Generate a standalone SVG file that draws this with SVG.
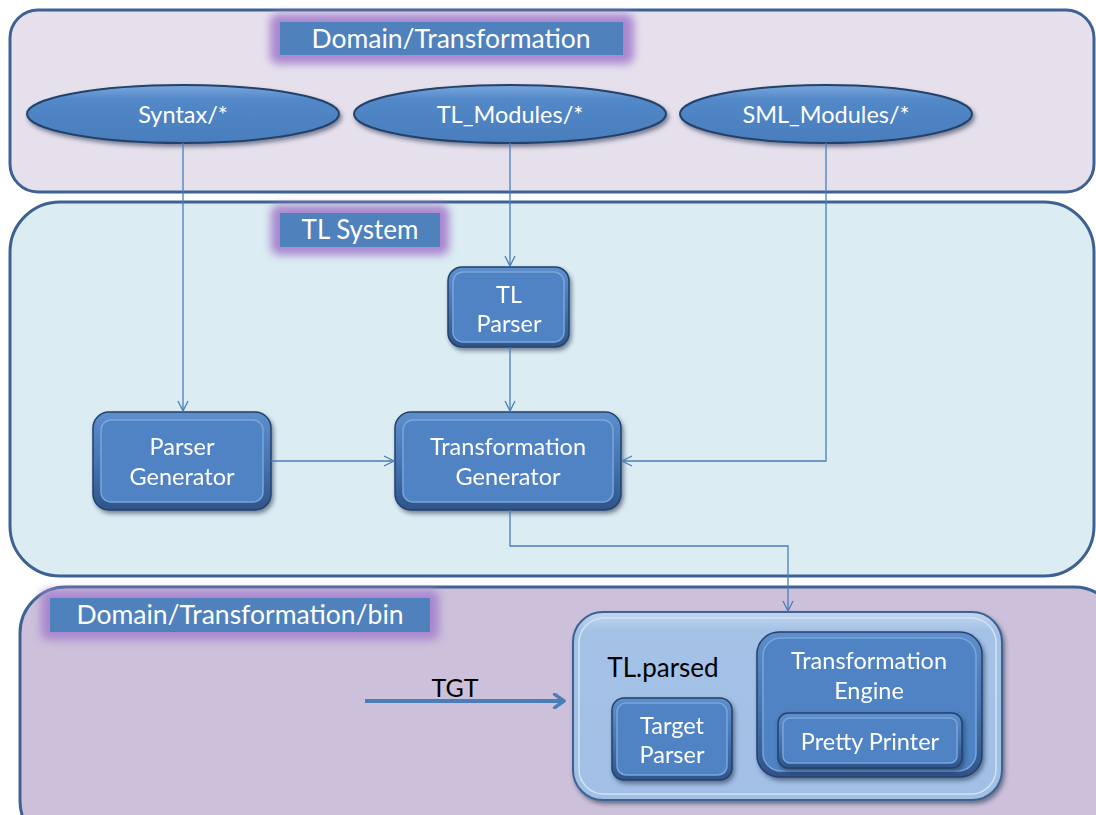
<svg xmlns="http://www.w3.org/2000/svg" width="1096" height="815" viewBox="0 0 1096 815">
  <defs>
    <style>
      .lbl { font-family: Lato, "Noto Sans", "Liberation Sans", sans-serif; fill: #ffffff; text-anchor: middle; }
      .dark { font-family: Lato, "Noto Sans", "Liberation Sans", sans-serif; fill: #000000; text-anchor: middle; }
      .panel { stroke: #3d6291; stroke-width: 3; }
      .tagbox { fill: #4f81bd; }
      .glow { fill: #a987cf; filter: url(#soft); }
      .conn { fill: none; stroke: #4a7ebb; stroke-width: 1.3; }
      .outer { fill: url(#bevel); stroke: #23426b; stroke-width: 1.5; }
      .inner { fill: #4f83c4; stroke: #7aa6da; stroke-width: 1.5; }
    </style>
    <filter id="soft" x="-20%" y="-50%" width="140%" height="200%">
      <feGaussianBlur stdDeviation="4"/>
    </filter>
    <filter id="shadow" x="-10%" y="-10%" width="130%" height="140%">
      <feDropShadow dx="2" dy="3" stdDeviation="2" flood-color="#1a2f4d" flood-opacity="0.55"/>
    </filter>
    <linearGradient id="bevel" x1="0" y1="0" x2="0" y2="1">
      <stop offset="0" stop-color="#5d8fcc"/>
      <stop offset="0.5" stop-color="#4676b3"/>
      <stop offset="1" stop-color="#2e5489"/>
    </linearGradient>
    <linearGradient id="ellfill" x1="0" y1="0" x2="0" y2="1">
      <stop offset="0" stop-color="#7aa7dc"/>
      <stop offset="0.25" stop-color="#5288c8"/>
      <stop offset="1" stop-color="#4a7dbc"/>
    </linearGradient>
    <linearGradient id="container" x1="0" y1="0" x2="0" y2="1">
      <stop offset="0" stop-color="#c3d6ee"/>
      <stop offset="0.1" stop-color="#a4c1e6"/>
      <stop offset="1" stop-color="#a2bfe5"/>
    </linearGradient>
    <marker id="open" viewBox="0 0 12 12" refX="11" refY="6" markerWidth="12" markerHeight="12" markerUnits="userSpaceOnUse" orient="auto">
      <path d="M1,1 L11,6 L1,11" fill="none" stroke="#4a7ebb" stroke-width="1.3"/>
    </marker>
    <marker id="bigopen" viewBox="0 0 12 12" refX="10" refY="6" markerWidth="16" markerHeight="16" markerUnits="userSpaceOnUse" orient="auto">
      <path d="M3,1 L10,6 L3,11" fill="none" stroke="#4a7ebb" stroke-width="2.6" stroke-linecap="round" stroke-linejoin="round"/>
    </marker>
  </defs>

  <!-- layers -->
  <g id="panel-domain">
    <rect class="panel" x="10" y="10" width="1084" height="182" rx="28" fill="#e6e0ed"/>
    <rect class="glow" x="270" y="14" width="364" height="50" rx="8"/>
    <rect class="tagbox" x="280" y="22" width="343" height="33"/>
    <text class="lbl" x="451" y="48" font-size="26.5">Domain/Transformation</text>
  </g>
  <g id="panel-tl-system">
    <rect class="panel" x="10" y="202" width="1084" height="374" rx="50" fill="#dbecf2"/>
    <rect class="glow" x="271" y="205" width="178" height="50" rx="8"/>
    <rect class="tagbox" x="280" y="213" width="160" height="34"/>
    <text class="lbl" x="360" y="239" font-size="26">TL System</text>
  </g>
  <g id="panel-bin">
    <rect class="panel" x="20" y="587" width="1100" height="260" rx="46" fill="#ccc0da"/>
    <rect class="glow" x="41" y="590" width="398" height="50" rx="8"/>
    <rect class="tagbox" x="50" y="598" width="380" height="34"/>
    <text class="lbl" x="240" y="624" font-size="26.5">Domain/Transformation/bin</text>
  </g>

  <!-- source folders -->
  <g id="syntax">
    <ellipse cx="183" cy="114" rx="156" ry="29" fill="url(#ellfill)" stroke="#23426b" stroke-width="2" filter="url(#shadow)"/>
    <text class="lbl" x="183" y="123" font-size="23.5">Syntax/*</text>
  </g>
  <g id="tl-modules">
    <ellipse cx="510" cy="114" rx="156" ry="29" fill="url(#ellfill)" stroke="#23426b" stroke-width="2" filter="url(#shadow)"/>
    <text class="lbl" x="510" y="123" font-size="23.5">TL_Modules/*</text>
  </g>
  <g id="sml-modules">
    <ellipse cx="826" cy="114" rx="146" ry="29" fill="url(#ellfill)" stroke="#23426b" stroke-width="2" filter="url(#shadow)"/>
    <text class="lbl" x="826" y="123" font-size="23.5">SML_Modules/*</text>
  </g>

  <!-- tools -->
  <g id="tl-parser" filter="url(#shadow)">
    <rect class="outer" x="448" y="267" width="121" height="80" rx="14"/>
    <rect class="inner" x="453" y="272" width="111" height="70" rx="10"/>
    <text class="lbl" x="509" y="303" font-size="23.5">TL</text>
    <text class="lbl" x="509" y="332" font-size="23.5">Parser</text>
  </g>
  <g id="parser-generator" filter="url(#shadow)">
    <rect class="outer" x="93" y="412" width="178" height="98" rx="16"/>
    <rect class="inner" x="101" y="420" width="162" height="82" rx="10"/>
    <text class="lbl" x="182" y="455" font-size="23.5">Parser</text>
    <text class="lbl" x="182" y="485" font-size="23.5">Generator</text>
  </g>
  <g id="transformation-generator" filter="url(#shadow)">
    <rect class="outer" x="395" y="412" width="226" height="98" rx="16"/>
    <rect class="inner" x="403" y="420" width="210" height="82" rx="10"/>
    <text class="lbl" x="508" y="455" font-size="23.5">Transformation</text>
    <text class="lbl" x="508" y="485" font-size="23.5">Generator</text>
  </g>

  <!-- generated output -->
  <g id="tl-parsed">
    <rect x="573" y="612" width="429" height="188" rx="30" fill="url(#container)" stroke="#3d6291" stroke-width="2" filter="url(#shadow)"/>
    <rect x="579" y="618" width="417" height="176" rx="25" fill="none" stroke="#d3e2f4" stroke-width="1.5"/>
    <text class="dark" x="663" y="677" font-size="26">TL.parsed</text>
  </g>
  <g id="target-parser" filter="url(#shadow)">
    <rect class="outer" x="612" y="698" width="120" height="82" rx="12"/>
    <rect class="inner" x="617" y="703" width="110" height="72" rx="9"/>
    <text class="lbl" x="672" y="734" font-size="23.5">Target</text>
    <text class="lbl" x="672" y="763" font-size="23.5">Parser</text>
  </g>
  <g id="transformation-engine" filter="url(#shadow)">
    <rect class="outer" x="757" y="632" width="225" height="145" rx="22"/>
    <rect class="inner" x="763" y="638" width="213" height="133" rx="18"/>
    <text class="lbl" x="869" y="669" font-size="23.5">Transformation</text>
    <text class="lbl" x="869" y="699" font-size="23.5">Engine</text>
  </g>
  <g id="pretty-printer" filter="url(#shadow)">
    <rect class="outer" x="778" y="713" width="184" height="55" rx="10"/>
    <rect class="inner" x="783" y="718" width="174" height="45" rx="7"/>
    <text class="lbl" x="870" y="750" font-size="23.5">Pretty Printer</text>
  </g>

  <!-- connectors -->
  <g id="connectors">
    <path class="conn" d="M183,143 V411" marker-end="url(#open)"/>
    <path class="conn" d="M510,143 V266" marker-end="url(#open)"/>
    <path class="conn" d="M510,347 V411" marker-end="url(#open)"/>
    <path class="conn" d="M271,461 H394" marker-end="url(#open)"/>
    <path class="conn" d="M826,143 V461 H622" marker-end="url(#open)"/>
    <path class="conn" d="M510,510 V546 H788 V611" marker-end="url(#open)"/>
    <path d="M365,701 H564" fill="none" stroke="#4a7ebb" stroke-width="4" marker-end="url(#bigopen)"/>
    <text class="dark" x="455" y="697" font-size="25">TGT</text>
  </g>
</svg>
